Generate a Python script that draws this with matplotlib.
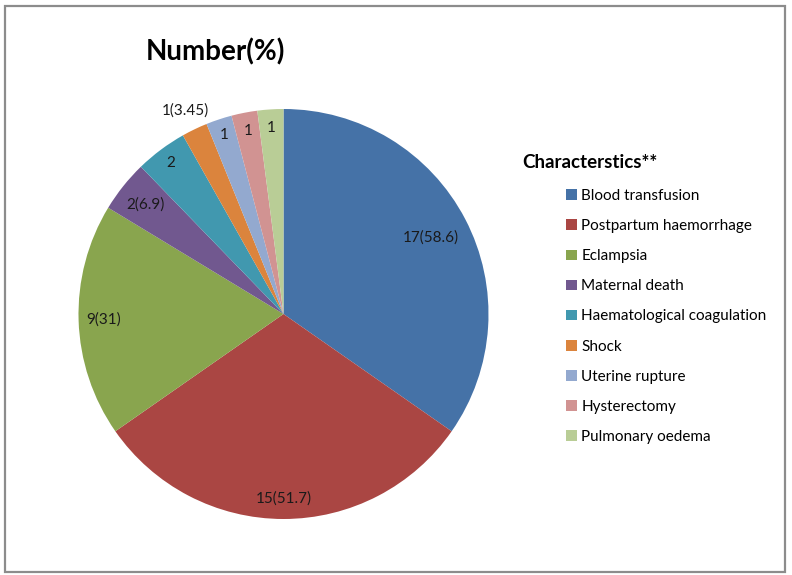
import matplotlib
matplotlib.use("Agg")
import matplotlib.pyplot as plt
from matplotlib.patches import Rectangle, Patch
import numpy as np

plt.rcParams['font.family'] = ['Lato', 'DejaVu Sans']

categories = ["Blood transfusion", "Postpartum haemorrhage", "Eclampsia",
              "Maternal death", "Haematological coagulation", "Shock",
              "Uterine rupture", "Hysterectomy", "Pulmonary oedema"]
counts = [17, 15, 9, 2, 2, 1, 1, 1, 1]
label_texts = ["17(58.6)", "15(51.7)", "9(31)", "2(6.9)", "2", "1(3.45)", "1", "1", "1"]
title = "Number(%)"
legend_title = "Characterstics**"

colors = ["#4572A7", "#AA4643", "#89A54E", "#71588F", "#4198AF",
          "#DB843D", "#93A9CF", "#D19392", "#B9CD96"]
label_dist = [0.81, 0.90, 0.88, 0.86, 0.92, 1.10, 0.92, 0.91, 0.91]

W, H = 792, 575
fig = plt.figure(figsize=(W / 100, H / 100), dpi=100)

cx, cy, r = 283.5, 261, 205
ax = fig.add_axes([(cx - r) / W, (cy - r) / H, 2 * r / W, 2 * r / H])
wedges, _ = ax.pie(counts, colors=colors, startangle=90, counterclock=False,
                   radius=1, wedgeprops=dict(linewidth=0))
ax.set_xlim(-1, 1)
ax.set_ylim(-1, 1)
ax.set_aspect('equal')
ax.axis('off')

for w, txt, d in zip(wedges, label_texts, label_dist):
    ang = np.deg2rad((w.theta1 + w.theta2) / 2)
    ax.text(d * np.cos(ang), d * np.sin(ang), txt, ha='center', va='center',
            fontsize=11, color='#1a1a1a')

fig.text(215 / W, 1 - 52 / H, title, ha='center', va='center',
         fontsize=20, fontweight='bold', color='black')

fig.text(522 / W, 1 - 163 / H, legend_title, ha='left', va='center',
         fontsize=13.5, fontweight='bold', color='black')

handles = [Patch(facecolor=c, edgecolor='none') for c in colors]
leg = fig.legend(handles, categories, loc='upper left',
                 bbox_to_anchor=(566 / W, 1 - 189 / H), frameon=False,
                 fontsize=11, handlelength=0.7, handleheight=0.7,
                 handletextpad=0.3, labelspacing=1.055, borderpad=0,
                 borderaxespad=0)

fig.patches.append(Rectangle((5 / W, 1 - 572 / H), 780 / W, 566 / H,
                             transform=fig.transFigure, fill=False,
                             edgecolor='#8c8c8c', linewidth=1.6))

fig.savefig("out.png", dpi=100, facecolor='white')
